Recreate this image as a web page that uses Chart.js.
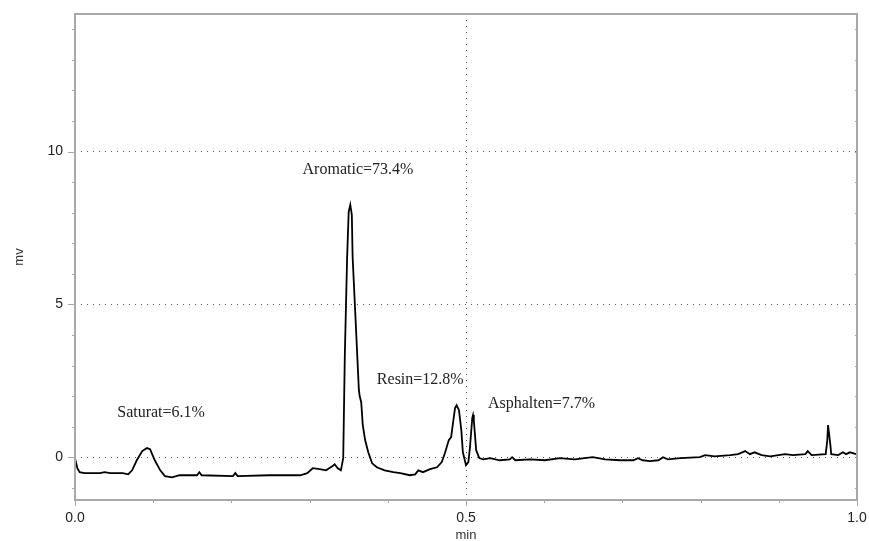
<!DOCTYPE html>
<html lang="en">

<head>
    <meta charset="UTF-8">
    <title>Chromatogram</title>
    <script src="https://cdn.jsdelivr.net/npm/chart.js@4.4.1/dist/chart.umd.min.js"></script>
    <style>
        body { margin: 0; background: #fff; }
    </style>
</head>

<body>
    <div style="width: 869px; height: 541px;">
        <canvas id="myChart"></canvas>
    </div>

    <script>
        // retention time (min) and detector signal (mv)
        const times = [
            0.000, 0.003, 0.006, 0.012, 0.032, 0.038, 0.045, 0.061, 0.068, 0.073,
            0.079, 0.086, 0.092, 0.096, 0.102, 0.109, 0.115, 0.124, 0.134, 0.156,
            0.159, 0.162, 0.202, 0.205, 0.208, 0.249, 0.288, 0.297, 0.304, 0.313,
            0.321, 0.329, 0.332, 0.336, 0.340, 0.343, 0.345, 0.348, 0.350, 0.352,
            0.354, 0.355, 0.359, 0.363, 0.364, 0.366, 0.368, 0.371, 0.375, 0.380,
            0.386, 0.396, 0.407, 0.416, 0.428, 0.435, 0.439, 0.445, 0.454, 0.463,
            0.469, 0.473, 0.478, 0.481, 0.483, 0.486, 0.488, 0.491, 0.494, 0.496,
            0.500, 0.503, 0.505, 0.508, 0.509, 0.510, 0.513, 0.517, 0.522, 0.531,
            0.543, 0.556, 0.559, 0.563, 0.582, 0.601, 0.620, 0.639, 0.662, 0.678,
            0.697, 0.714, 0.720, 0.726, 0.735, 0.746, 0.752, 0.758, 0.774, 0.799,
            0.806, 0.818, 0.838, 0.848, 0.857, 0.863, 0.869, 0.878, 0.889, 0.908,
            0.918, 0.934, 0.937, 0.942, 0.960, 0.962, 0.963, 0.964, 0.966, 0.967,
            0.976, 0.982, 0.986, 0.991, 0.999
        ];
        const signal = [
            -0.03, -0.36, -0.49, -0.52, -0.52, -0.49, -0.52, -0.52, -0.56, -0.43,
            -0.10, 0.20, 0.30, 0.26, -0.10, -0.43, -0.62, -0.66, -0.59, -0.59,
            -0.49, -0.59, -0.62, -0.52, -0.62, -0.59, -0.59, -0.52, -0.36, -0.39,
            -0.43, -0.30, -0.23, -0.36, -0.43, -0.03, 3.28, 6.56, 8.03, 8.26,
            7.93, 6.56, 4.39, 2.20, 2.00, 1.80, 1.05, 0.56, 0.16, -0.20,
            -0.33, -0.43, -0.49, -0.52, -0.59, -0.56, -0.43, -0.49, -0.39, -0.33,
            -0.16, 0.13, 0.56, 0.66, 1.05, 1.61, 1.70, 1.54, 0.89, 0.16,
            -0.26, -0.16, 0.30, 1.28, 1.38, 1.21, 0.23, -0.03, -0.07, -0.03,
            -0.10, -0.07, 0.00, -0.10, -0.07, -0.10, -0.03, -0.07, 0.00, -0.07,
            -0.10, -0.10, -0.03, -0.10, -0.13, -0.10, 0.00, -0.07, -0.03, 0.00,
            0.07, 0.03, 0.07, 0.10, 0.20, 0.10, 0.16, 0.07, 0.03, 0.10,
            0.07, 0.10, 0.20, 0.07, 0.10, 0.56, 1.05, 1.05, 0.39, 0.10,
            0.07, 0.16, 0.10, 0.16, 0.10
        ];

        const xTicks = [0, 0.1, 0.2, 0.3, 0.4, 0.5, 0.6, 0.7, 0.8, 0.9, 1.0];
        const xLabels = [0, 0.5, 1.0];
        const yTicks = [-1, 0, 1, 2, 3, 4, 5, 6, 7, 8, 9, 10, 11, 12, 13, 14];
        const yLabels = [0, 5, 10];

        // peak labels: text, time, signal
        const peakNames = ['Saturat=6.1%', 'Aromatic=73.4%', 'Resin=12.8%', 'Asphalten=7.7%'];
        const peakX = [0.054, 0.291, 0.386, 0.528];
        const peakY = [1.44, 9.41, 2.52, 1.74];

        const isIn = (arr, v) => arr.some(a => Math.abs(a - v) < 1e-9);

        // frame, minor ticks and peak labels
        const decorations = {
            id: 'decorations',
            afterDraw(chart) {
                const { ctx, chartArea: a, scales: { x, y } } = chart;
                ctx.save();
                ctx.strokeStyle = '#a8a8a8';
                ctx.lineWidth = 1;
                ctx.beginPath();
                xTicks.forEach(v => {
                    const px = Math.round(x.getPixelForValue(v)) + 0.5;
                    const len = isIn(xLabels, v) ? 6 : 3;
                    ctx.moveTo(px, a.bottom);
                    ctx.lineTo(px, a.bottom + len);
                });
                yTicks.forEach(v => {
                    const py = Math.round(y.getPixelForValue(v)) + 0.5;
                    const len = isIn(yLabels, v) ? 7 : 3;
                    ctx.moveTo(a.left, py);
                    ctx.lineTo(a.left - len, py);
                    ctx.moveTo(a.right, py);
                    ctx.lineTo(a.right - 2, py);
                });
                ctx.stroke();

                ctx.lineWidth = 2;
                ctx.strokeRect(a.left, a.top, a.right - a.left, a.bottom - a.top);

                ctx.fillStyle = '#222';
                ctx.font = '16px "Liberation Serif", "Times New Roman", serif';
                ctx.textBaseline = 'middle';
                ctx.textAlign = 'left';
                peakNames.forEach((t, i) => {
                    ctx.fillText(t, x.getPixelForValue(peakX[i]), y.getPixelForValue(peakY[i]));
                });
                ctx.restore();
            }
        };

        const ctx = document.getElementById('myChart').getContext('2d');
        let lineChart = new Chart(ctx, {
            type: 'line',
            data: {
                datasets: [{
                    data: times.map((t, i) => ({ x: t, y: signal[i] })),
                    borderColor: '#000',
                    borderWidth: 1.8,
                    pointRadius: 0,
                    tension: 0,
                    fill: false
                }]
            },
            options: {
                responsive: true,
                maintainAspectRatio: false,
                animation: false,
                layout: {
                    padding: { top: 14, right: 12, left: 0, bottom: 0 }
                },
                plugins: {
                    legend: { display: false },
                    tooltip: { enabled: false }
                },
                scales: {
                    x: {
                        type: 'linear',
                        min: 0,
                        max: 1,
                        afterBuildTicks: s => { s.ticks = xTicks.map(v => ({ value: v })); },
                        afterFit: s => { s.height = 41; s.paddingLeft = 0; s.paddingRight = 0; },
                        border: { display: false, dash: [1, 5] },
                        grid: {
                            drawTicks: false,
                            color: c => (c.tick && Math.abs(c.tick.value - 0.5) < 1e-9) ? '#555' : 'rgba(0,0,0,0)',
                            lineWidth: 1
                        },
                        ticks: {
                            autoSkip: false,
                            maxRotation: 0,
                            padding: 10,
                            color: '#222',
                            font: { family: '"Liberation Sans", Arial, sans-serif', size: 14 },
                            callback: v => isIn(xLabels, v) ? v.toFixed(1) : ''
                        },
                        title: {
                            display: true,
                            text: 'min',
                            color: '#333',
                            font: { family: '"Liberation Sans", Arial, sans-serif', size: 13 },
                            padding: { top: 0, bottom: -2 }
                        }
                    },
                    y: {
                        min: -1.4,
                        max: 14.5,
                        afterBuildTicks: s => { s.ticks = yTicks.map(v => ({ value: v })); },
                        afterFit: s => { s.width = 75; s.paddingTop = 0; s.paddingBottom = 0; },
                        border: { display: false, dash: [1, 5] },
                        grid: {
                            drawTicks: false,
                            color: c => (c.tick && isIn(yLabels, c.tick.value)) ? '#555' : 'rgba(0,0,0,0)',
                            lineWidth: 1
                        },
                        ticks: {
                            autoSkip: false,
                            padding: 12,
                            color: '#222',
                            font: { family: '"Liberation Sans", Arial, sans-serif', size: 14 },
                            callback: v => isIn(yLabels, v) ? String(v) : ''
                        },
                        title: {
                            display: true,
                            text: 'mv',
                            color: '#333',
                            font: { family: '"Liberation Sans", Arial, sans-serif', size: 13 },
                            padding: { top: 12, bottom: 0 }
                        }
                    }
                }
            },
            plugins: [decorations]
        });
    </script>
</body>

</html>
